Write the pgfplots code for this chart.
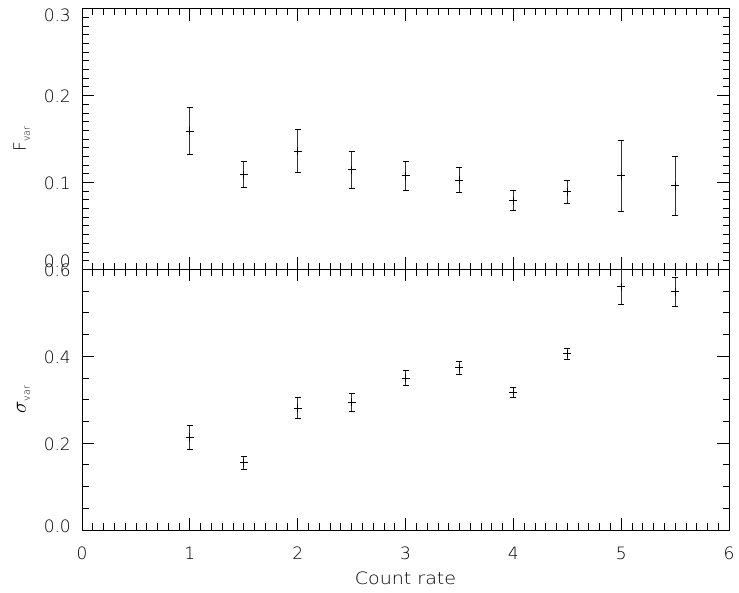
\documentclass[border=0pt]{standalone}
\usepackage{fontspec}
\setmainfont{DejaVu Sans ExtraLight}
\newfontfamily\lblfont{DejaVu Sans ExtraLight}[FakeStretch=1.12]
\usepackage{pgfplots}
\usepackage{pgfplotstable}
\pgfplotsset{compat=1.18}

\pgfplotstableread{
x y e
1   0.159  0.027
1.5 0.109  0.0147
2   0.136  0.0247
2.5 0.1145 0.021
3   0.1076 0.0163
3.5 0.1026 0.0144
4   0.0791 0.0115
4.5 0.0892 0.013
5   0.1076 0.041
5.5 0.0961 0.034
}\fvar

\pgfplotstableread{
x y e
1   0.213  0.027
1.5 0.1545 0.0155
2   0.2807 0.024
2.5 0.2937 0.021
3   0.3499 0.017
3.5 0.373  0.0146
4   0.3168 0.011
4.5 0.406  0.013
5   0.5598 0.0415
5.5 0.548  0.034
}\svar

\pgfplotsset{
  panel/.style={
    scale only axis, width=647pt, height=260.7pt,
    anchor=south west,
    xmin=0, xmax=6, xtick={0,1,2,3,4,5,6},
    minor x tick num=9,
    tick align=inside,
    major tick length=12pt, minor tick length=6.5pt,
    every tick/.style={black, line width=0.7pt},
    axis line style={line width=0.9pt, black},
    /pgf/number format/assume math mode=true,
    tick label style={font=\fontsize{17}{20}\selectfont},
    yticklabel style={inner sep=0pt, xshift=-11pt, yshift=-1pt},
    xticklabel style={inner sep=0pt, yshift=-17pt},
    ylabel style={at={(axis description cs:-0.0866,0.5)}, anchor=base, inner sep=0pt},
  },
  pts/.style={black, line width=0.9pt, only marks, mark=+, mark size=4pt,
    error bars/.cd, y dir=both, y explicit,
    error bar style={line width=0.8pt, black!80},
    error mark options={rotate=90, black, line width=0.8pt, mark size=3pt}},
}

\begin{document}
\begin{tikzpicture}
\useasboundingbox (0,0) rectangle (739pt,593pt);
\begin{axis}[panel, at={(82pt,323.7pt)},
  ymin=0, ymax=0.3, ytick={0,0.1,0.2,0.3},
  yticklabels={{\raisebox{9pt}[\height][\depth]{0.0}},{0.1},{0.2},{\raisebox{-6pt}[\height][\depth]{0.3}}},
  minor y tick num=9,
  xticklabels={},
  ylabel={F\raisebox{-4pt}{\fontsize{9.5}{10}\selectfont var}},
  ylabel style={font=\fontsize{17}{20}\selectfont},
]
\addplot[pts] table[x=x, y=y, y error=e] {\fvar};
\end{axis}
\begin{axis}[panel, at={(82pt,63pt)},
  ymin=0, ymax=0.6, ytick={0,0.2,0.4,0.6},
  yticklabels={{\raisebox{5pt}[\height][\depth]{0.0}},{0.2},{0.4},{0.6}},
  xticklabels={0,1,2,3,4,5,6},
  minor y tick num=3,
  ylabel={{\fontsize{21}{22}\selectfont$\sigma$}\raisebox{-4pt}{\fontsize{9.5}{10}\selectfont var}},
  xlabel={\lblfont Count rate},
  xlabel style={at={(axis description cs:0.5,0)}, anchor=base, inner sep=0pt, yshift=-55pt, font=\fontsize{17}{20}\selectfont},
]
\addplot[pts] table[x=x, y=y, y error=e] {\svar};
\end{axis}
\end{tikzpicture}
\end{document}
